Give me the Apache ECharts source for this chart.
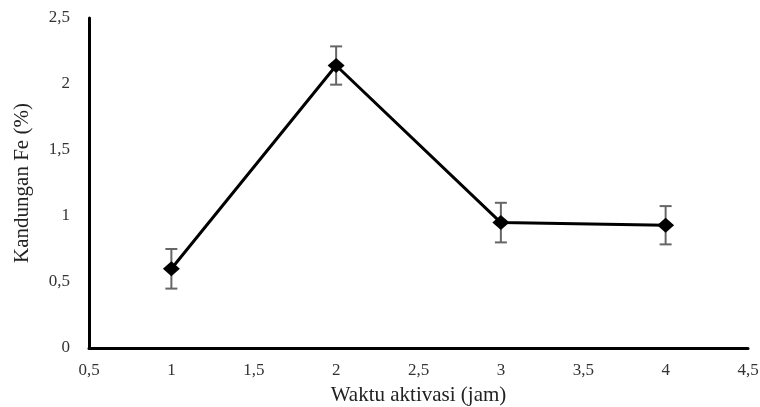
<!DOCTYPE html>
<html>
<head>
<meta charset="utf-8">
<script src="https://cdn.jsdelivr.net/npm/echarts@6/dist/echarts.min.js"></script>
<style>html,body{margin:0;padding:0;background:#fff;}#c{width:760px;height:407px;}</style>
</head>
<body>
<div id="c"></div>
<script>
var hours = [1, 2, 3, 4];
var feContent = [0.6, 2.14, 0.95, 0.93];
var feError = [0.15, 0.145, 0.15, 0.145];
var xTitle = 'Waktu aktivasi (jam)';
var yTitle = 'Kandungan Fe (%)';

var font = '"Liberation Serif", "Times New Roman", serif';
function fmt(v){ return String(v).replace('.', ','); }

var lineData = hours.map(function(h,i){ return [h, feContent[i]]; });
var errData = hours.map(function(h,i){ return [h, feContent[i]-feError[i], feContent[i]+feError[i]]; });

var chart = echarts.init(document.getElementById('c'), null, {renderer:'canvas'});
chart.setOption({
  backgroundColor: '#fff',
  animation: false,
  grid: {left: 89, right: 12, top: 18, bottom: 59, containLabel: false, outerBoundsMode: 'none'},
  xAxis: {
    type: 'value', min: 0.5, max: 4.5, interval: 0.5,
    name: xTitle, nameLocation: 'middle', nameGap: 37,
    nameTextStyle: {fontFamily: font, fontSize: 21, color: '#222'},
    axisLine: {show: true, lineStyle: {color: '#000', width: 3}},
    axisTick: {show: false},
    splitLine: {show: false},
    axisLabel: {fontFamily: font, fontSize: 17, color: '#333', margin: 14, formatter: fmt}
  },
  yAxis: {
    type: 'value', min: 0, max: 2.5, interval: 0.5,
    name: yTitle, nameLocation: 'middle', nameGap: 56,
    nameTextStyle: {fontFamily: font, fontSize: 21, color: '#222'},
    axisLine: {show: true, lineStyle: {color: '#000', width: 3}},
    axisTick: {show: false},
    splitLine: {show: false},
    axisLabel: {fontFamily: font, fontSize: 17, color: '#333', margin: 19, formatter: fmt}
  },
  series: [
    {
      type: 'custom',
      z: 1,
      renderItem: function(params, api){
        var x = api.value(0);
        var lo = api.coord([x, api.value(1)]);
        var hi = api.coord([x, api.value(2)]);
        var hw = 6;
        var st = {stroke: '#666', lineWidth: 2, fill: null};
        return {type: 'group', children: [
          {type: 'line', shape: {x1: lo[0], y1: lo[1], x2: hi[0], y2: hi[1]}, style: st},
          {type: 'line', shape: {x1: lo[0]-hw, y1: lo[1], x2: lo[0]+hw, y2: lo[1]}, style: st},
          {type: 'line', shape: {x1: hi[0]-hw, y1: hi[1], x2: hi[0]+hw, y2: hi[1]}, style: st}
        ]};
      },
      encode: {x: 0, y: [1, 2]},
      data: errData
    },
    {
      type: 'line',
      z: 3,
      data: lineData,
      symbol: 'diamond',
      symbolSize: [17, 15],
      itemStyle: {color: '#000'},
      lineStyle: {color: '#000', width: 3}
    }
  ]
});
</script>
</body>
</html>
